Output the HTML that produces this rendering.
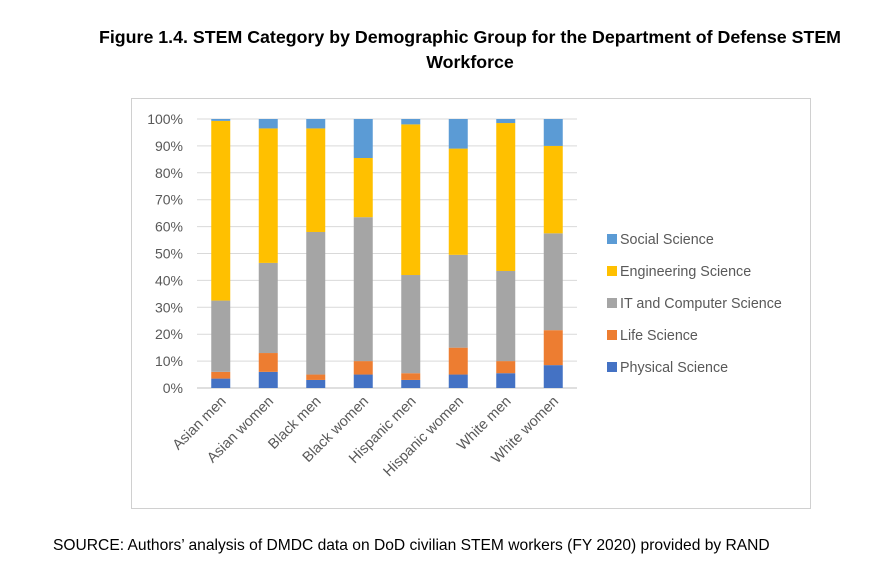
<!DOCTYPE html>
<html><head><meta charset="utf-8"><style>
body{margin:0;background:#fff;width:890px;height:574px;overflow:hidden;font-family:"Liberation Sans",sans-serif}
</style></head><body>
<svg width="890" height="574" xmlns="http://www.w3.org/2000/svg">
<text x="470" y="43" text-anchor="middle" font-size="17.8" font-weight="bold" fill="#000">Figure 1.4. STEM Category by Demographic Group for the Department of Defense STEM</text>
<text x="470" y="68" text-anchor="middle" font-size="17.8" font-weight="bold" fill="#000">Workforce</text>
<rect x="131.5" y="98.5" width="679" height="410" fill="#fff" stroke="#d0d0d0"/>
<g id="grid"></g><g id="bars"></g><g id="ylabels"></g><g id="xlabels"></g><g id="legend"></g>
<text x="53" y="550" font-size="15.6" fill="#000">SOURCE: Authors’ analysis of DMDC data on DoD civilian STEM workers (FY 2020) provided by RAND</text>
</svg>
<script>
const categories=["Asian men","Asian women","Black men","Black women","Hispanic men","Hispanic women","White men","White women"];
const seriesNames=["Physical Science","Life Science","IT and Computer Science","Engineering Science","Social Science"];
const seriesColors=["#4472c4","#ed7d31","#a5a5a5","#ffc000","#5b9bd5"];
const physical=[3.5,6,3,5,3,5,5.5,8.5];
const life=[2.5,7,2,5,2.5,10,4.5,13];
const itcs=[26.5,33.5,53,53.5,36.5,34.5,33.5,36];
const engineering=[66.8,50,38.5,22,56,39.5,55,32.5];
const social=[0.7,3.5,3.5,14.5,2,11,1.5,10];
const yTicks=[0,10,20,30,40,50,60,70,80,90,100];
const NS="http://www.w3.org/2000/svg";
const y0=388,y1=119,xL=197,xR=577;
const yS=v=>y0-(y0-y1)*v/100;
const step=(xR-xL)/categories.length;
const xC=i=>xL+step*(i+0.5);
const barW=19;
function mk(t,a,p){const e=document.createElementNS(NS,t);for(const k in a)e.setAttribute(k,a[k]);document.getElementById(p).appendChild(e);return e;}
yTicks.forEach(t=>{
 const l=mk('line',{x1:xL,x2:xR,y1:yS(t),y2:yS(t),stroke:t===0?'#bfbfbf':'#d9d9d9','stroke-width':1},'grid');
 
 
 const tx=mk('text',{x:183,y:yS(t)+5,'text-anchor':'end','font-size':14,fill:'#595959'},'ylabels');
 tx.textContent=t+'%';
 
 
});
const series=[physical,life,itcs,engineering,social];
categories.forEach((c,i)=>{
 let cum=0;
 series.forEach((s,k)=>{
  const top=Math.min(100,cum+s[i]);
  const r=mk('rect',{x:xC(i)-barW/2,y:yS(top),width:barW,height:yS(cum)-yS(top),fill:seriesColors[k]},'bars');
  
  
  cum=top;
 });
 const tx=mk('text',{x:xC(i)+6,y:402,'text-anchor':'end','font-size':14.5,fill:'#595959',transform:`rotate(-45 ${xC(i)+6} 402)`},'xlabels');
 tx.textContent=c;
 
 
});
for(let k=4;k>=0;k--){
 const yy=239+(4-k)*32;
 const r=mk('rect',{x:607,y:yy-5,width:10,height:10,fill:seriesColors[k]},'legend');
 
 
 const t=mk('text',{x:620,y:yy+5,'font-size':14.3,fill:'#595959'},'legend');
 t.textContent=seriesNames[k];
 
 
}
</script>
</body></html>
